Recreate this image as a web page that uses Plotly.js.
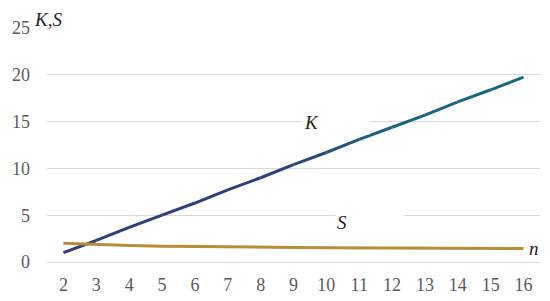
<!DOCTYPE html>
<html>
<head>
<meta charset="utf-8">
<script src="https://cdn.plot.ly/plotly-3.0.1.min.js"></script>
<style>
  html, body { margin: 0; padding: 0; background: #fff; font-family: 'Liberation Serif', serif; }
  #chart { width: 550px; height: 301px; }
</style>
</head>
<body>
<div id="chart"></div>
<script>
// n along the x axis, K and S
const nVals = [2, 3, 4, 5, 6, 7, 8, 9, 10, 11, 12, 13, 14, 15, 16];
const kVals = [1.0, 2.3, 3.7, 5.0, 6.3, 7.7, 9.0, 10.4, 11.7, 13.1, 14.4, 15.7, 17.1, 18.4, 19.75];
const sVals = [2.0, 1.86, 1.76, 1.69, 1.64, 1.6, 1.57, 1.55, 1.53, 1.51, 1.5, 1.48, 1.47, 1.45, 1.43];

const KNAVY = [47, 60, 125], KTEAL = [20, 105, 128];
const mix = (a, b, t) => 'rgb(' + a.map((v, i) => Math.round(v + (b[i] - v) * t)).join(',') + ')';

// K is drawn as short pieces so the colour can fade navy -> teal like the source
const traces = [];
for (let i = 0; i < nVals.length - 1; i++) {
    const mid = (nVals[i] + nVals[i + 1]) / 2;
    const t = Math.min(1, Math.max(0, (mid - 8.5) / 3.5));
    traces.push({
        x: [nVals[i], nVals[i + 1]], y: [kVals[i], kVals[i + 1]],
        type: 'scatter', mode: 'lines', hoverinfo: 'skip', showlegend: false,
        line: { color: mix(KNAVY, KTEAL, t), width: 3 }
    });
}
traces.push({
    x: nVals, y: sVals, type: 'scatter', mode: 'lines', name: 'S', showlegend: false,
    line: { color: '#B98D36', width: 3 }
});

// plot box in px: left 47, right 540, top 28, bottom 262
const L = 47, W = 493, B = 262, H = 234;
const px = x => (x - L) / W, py = y => (B - y) / H;
const SERIF = 'Liberation Serif';
const lblFont = { family: SERIF, size: 19, color: '#1f1f1f', style: 'italic' };
const label = (text, x, y, w, pad) => ({
    text, xref: 'paper', yref: 'paper', x: px(x), y: py(y), xanchor: 'left', yanchor: 'middle',
    showarrow: false, bgcolor: '#ffffff', width: w, align: 'left', borderpad: pad, font: lblFont
});

const layout = {
    width: 550, height: 301,
    margin: { l: L, r: 550 - L - W, t: B - H, b: 301 - B, pad: 0 },
    paper_bgcolor: '#fff', plot_bgcolor: '#fff',
    font: { family: SERIF, size: 18, color: '#595959' },
    xaxis: {
        range: [1.5, 16.5], tickmode: 'array', tickvals: nVals, ticktext: nVals.map(String),
        showgrid: false, zeroline: false, showline: false, ticks: '', ticklabelstandoff: 10
    },
    yaxis: {
        range: [0, 25], dtick: 5, showgrid: true, gridcolor: '#d9d9d9', gridwidth: 1,
        zeroline: true, zerolinecolor: '#d9d9d9', zerolinewidth: 1,
        showline: false, ticks: '', ticklabelstandoff: 16
    },
    annotations: [
        label('K,S', 31, 20, 58, 2),
        label('K', 302, 122, 64, 1),
        label('S', 335, 222, 66, 1),
        label('n', 526, 248, 20, 2)
    ]
};

Plotly.newPlot('chart', traces, layout, { displayModeBar: false }).then(gd => {
    // make sure every svg text really uses the serif face
    gd.querySelectorAll('text').forEach(el => { el.style.fontFamily = "'Liberation Serif', serif"; });
});
</script>
</body>
</html>
